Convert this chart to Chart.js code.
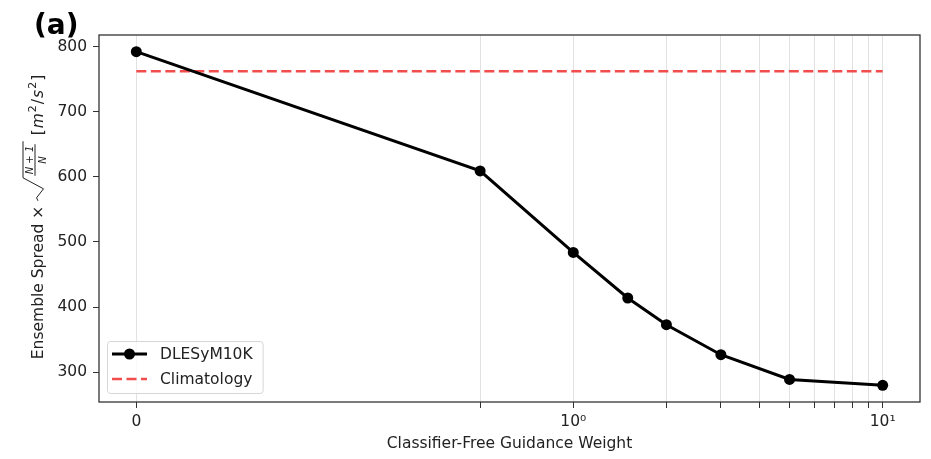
<!DOCTYPE html>
<html>
<head>
<meta charset="utf-8">
<script src="https://cdn.jsdelivr.net/npm/chart.js@4.4.1/dist/chart.umd.min.js"></script>
<style>
  html, body { margin: 0; padding: 0; background: #fff; }
</style>
</head>
<body>
<canvas id="chart" width="931" height="459"></canvas>
<script>
// data
const guidance = [0, 0.5, 1, 1.5, 2, 3, 5, 10];
const spreadDLESyM = [792, 609, 484, 414, 373, 327, 289, 280];
const climX = [0, 10];
const climY = [762, 762];
const xTickValues = [0, 0.5, 1, 2, 3, 4, 5, 6, 7, 8, 9, 10];
const xMajorLabels = { 0: '0', 1: '10⁰', 10: '10¹' };
const yTickValues = [300, 400, 500, 600, 700, 800];

const FONT = '"DejaVu Sans", "Noto Sans", sans-serif';
const TEXT = '#222';

// symlog axis (linthresh 0.5, linscale 1 like matplotlib)
const LINTHRESH = 0.5;
const LINSCALE = 1 / (1 - 1 / 10);
function symlog(v) {
  const a = Math.abs(v);
  const t = a <= LINTHRESH ? a / LINTHRESH * LINSCALE : LINSCALE + Math.log10(a / LINTHRESH);
  return v < 0 ? -t : t;
}
function symexp(t) {
  const a = Math.abs(t);
  const v = a <= LINSCALE ? a / LINSCALE * LINTHRESH : LINTHRESH * Math.pow(10, a - LINSCALE);
  return t < 0 ? -v : v;
}

class SymlogScale extends Chart.LinearScale {
  buildTicks() {
    return xTickValues.map(v => ({ value: v, major: v in xMajorLabels }));
  }
  configure() {
    super.configure();
    const a = symlog(this.min), b = symlog(this.max);
    const pad = (b - a) * 0.05;
    this._tMin = a - pad;
    this._tMax = b + pad;
  }
  getPixelForValue(v) {
    return this.getPixelForDecimal((symlog(v) - this._tMin) / (this._tMax - this._tMin));
  }
  getValueForPixel(p) {
    return symexp(this._tMin + this.getDecimalForPixel(p) * (this._tMax - this._tMin));
  }
}
SymlogScale.id = 'symlog';
SymlogScale.defaults = Chart.LinearScale.defaults;
Chart.register(SymlogScale);

const allY = spreadDLESyM.concat(climY);
const yLo = Math.min(...allY), yHi = Math.max(...allY);
const yPad = (yHi - yLo) * 0.05;

// y axis title with the sqrt((N+1)/N) factor
function drawYTitle(ctx, cx, cy) {
  const reg = '15.5px ' + FONT, ital = 'italic 15.5px ' + FONT;
  const frac = 'italic 10px ' + FONT, sup = '11px ' + FONT;
  const head = 'Ensemble Spread × ';
  const tail = [[' ', reg, 0], ['[', reg, 0], ['m', ital, 0], ['2', sup, -7], ['/', reg, 0], ['s', ital, 0], ['2', sup, -7], [']', reg, 0]];

  ctx.font = reg;
  const wHead = ctx.measureText(head).width;
  ctx.font = frac;
  const wNum = ctx.measureText('N + 1').width;
  const wDen = ctx.measureText('N').width;
  const wFrac = Math.max(wNum, wDen) + 8;
  const wRad = 23 + wFrac;
  let wTail = 0;
  tail.forEach(p => { ctx.font = p[1]; wTail += ctx.measureText(p[0]).width + 1; });
  const total = wHead + wRad + wTail;

  ctx.save();
  ctx.translate(cx, cy);
  ctx.rotate(-Math.PI / 2);
  ctx.fillStyle = TEXT;
  ctx.strokeStyle = TEXT;
  ctx.textBaseline = 'alphabetic';
  const base = 6;
  let u = -total / 2;
  ctx.font = reg;
  ctx.fillText(head, u, base);
  u += wHead;

  // radical sign
  ctx.lineWidth = 1;
  ctx.beginPath();
  ctx.moveTo(u, base - 5);
  ctx.lineTo(u + 3, base - 6.5);
  ctx.lineTo(u + 12, base + 0.5);
  ctx.lineTo(u + 23, base - 20);
  ctx.lineTo(u + 23 + wFrac, base - 20);
  ctx.stroke();
  const fx = u + 23;
  ctx.beginPath();
  ctx.moveTo(fx + 2, base - 8);
  ctx.lineTo(fx + wFrac - 3, base - 8);
  ctx.stroke();
  ctx.font = frac;
  ctx.textAlign = 'center';
  ctx.fillText('N + 1', fx + wFrac / 2 - 0.5, base - 10);
  ctx.fillText('N', fx + wFrac / 2 - 0.5, base + 2.5);
  ctx.textAlign = 'left';
  u += wRad;

  tail.forEach(p => {
    ctx.font = p[1];
    ctx.fillText(p[0], u, base + p[2]);
    u += ctx.measureText(p[0]).width + 1;
  });
  ctx.restore();
}

function drawLegend(ctx, chart) {
  const area = chart.chartArea;
  const rows = chart.data.datasets;
  ctx.save();
  ctx.font = '15.5px ' + FONT;
  const textW = Math.max(...rows.map(d => ctx.measureText(d.label).width));
  const x0 = area.left + 8;
  const rowH = 25;
  const w = 53 + textW + 10;
  const h = rows.length * rowH + 2;
  const y0 = area.bottom - 9 - h;

  ctx.beginPath();
  ctx.roundRect(x0 + 0.5, y0 + 0.5, w, h, 3);
  ctx.fillStyle = 'rgba(255,255,255,0.8)';
  ctx.fill();
  ctx.strokeStyle = '#d6d6d6';
  ctx.lineWidth = 1;
  ctx.stroke();

  rows.forEach((d, i) => {
    const yc = y0 + 13 + i * rowH;
    ctx.beginPath();
    ctx.setLineDash(d.borderDash || []);
    ctx.strokeStyle = d.borderColor;
    ctx.lineWidth = d.borderWidth;
    ctx.moveTo(x0 + 5, yc);
    ctx.lineTo(x0 + 40, yc);
    ctx.stroke();
    ctx.setLineDash([]);
    if (d.pointRadius > 0) {
      ctx.beginPath();
      ctx.arc(x0 + 22.5, yc, d.pointRadius, 0, Math.PI * 2);
      ctx.fillStyle = d.backgroundColor;
      ctx.fill();
    }
    ctx.fillStyle = TEXT;
    ctx.textBaseline = 'middle';
    ctx.fillText(d.label, x0 + 53, yc + 1);
  });
  ctx.restore();
}

const decorations = {
  id: 'decorations',
  afterDraw(chart) {
    const ctx = chart.ctx, area = chart.chartArea;
    ctx.save();
    ctx.strokeStyle = '#333';
    ctx.lineWidth = 1.3;
    ctx.strokeRect(area.left, area.top, area.right - area.left, area.bottom - area.top);
    ctx.fillStyle = '#000';
    ctx.font = 'bold 28px ' + FONT;
    ctx.textBaseline = 'alphabetic';
    ctx.fillText('(a)', 34, 34);
    ctx.restore();
    drawYTitle(ctx, 37, (area.top + area.bottom) / 2 - 2);
    drawLegend(ctx, chart);
  }
};

const ctx = document.getElementById('chart').getContext('2d');
new Chart(ctx, {
  type: 'line',
  data: {
    datasets: [{
      label: 'DLESyM10K',
      data: guidance.map((x, i) => ({ x: x, y: spreadDLESyM[i] })),
      borderColor: '#000',
      backgroundColor: '#000',
      borderWidth: 3,
      pointRadius: 5.5,
      pointBorderWidth: 0,
      pointHoverRadius: 5.5,
      tension: 0
    }, {
      label: 'Climatology',
      data: climX.map((x, i) => ({ x: x, y: climY[i] })),
      borderColor: '#f24d4d',
      backgroundColor: '#f24d4d',
      borderWidth: 2.6,
      borderDash: [10, 4.5],
      pointRadius: 0,
      tension: 0
    }]
  },
  options: {
    responsive: false,
    animation: false,
    devicePixelRatio: 1,
    layout: { padding: { top: 35, right: 11, left: 0, bottom: 0 } },
    plugins: {
      legend: { display: false },
      tooltip: { enabled: false }
    },
    scales: {
      x: {
        type: 'symlog',
        position: 'bottom',
        grid: { color: '#e2e2e2', lineWidth: 1, tickColor: '#333', tickLength: 6 },
        border: { display: false },
        ticks: {
          autoSkip: false,
          maxRotation: 0,
          padding: 5,
          color: TEXT,
          font: { family: FONT, size: 15.5 },
          callback: v => xMajorLabels[v] ?? ''
        },
        title: {
          display: true,
          text: 'Classifier-Free Guidance Weight',
          color: TEXT,
          font: { family: FONT, size: 15.5 },
          padding: { top: 0, bottom: 6 }
        },
        afterFit: s => { s.height = 57; }
      },
      y: {
        type: 'linear',
        min: yLo - yPad,
        max: yHi + yPad,
        bounds: 'data',
        afterBuildTicks: s => { s.ticks = yTickValues.map(v => ({ value: v })); },
        grid: { drawOnChartArea: false, tickColor: '#333', tickLength: 6 },
        border: { display: false },
        ticks: {
          padding: 6,
          color: TEXT,
          font: { family: FONT, size: 15.5 }
        },
        afterFit: s => { s.width = 99; }
      }
    }
  },
  plugins: [decorations]
});
</script>
</body>
</html>
